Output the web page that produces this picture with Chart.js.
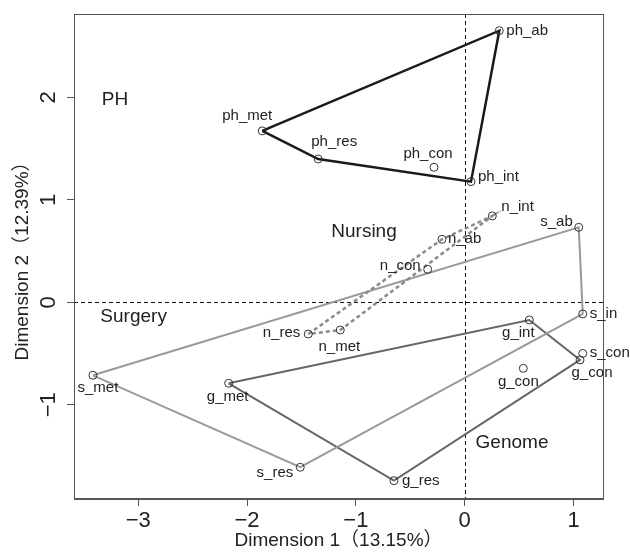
<!DOCTYPE html>
<html>
<head>
<meta charset="utf-8">
<script src="https://cdn.jsdelivr.net/npm/chart.js@4.4.1/dist/chart.umd.min.js"></script>
<style>
html, body { margin: 0; padding: 0; background: #fff; }
#wrap { width: 630px; height: 552px; }
</style>
</head>
<body>
<div id="wrap"><canvas id="myChart"></canvas></div>
<script>
// points of the correspondence map
var pointNames = ['ph_ab', 'ph_met', 'ph_res', 'ph_con', 'ph_int',
  'n_int', 'n_ab', 'n_con', 'n_res', 'n_met',
  's_ab', 's_in', 's_con', 's_met', 's_res',
  'g_int', 'g_con', 'g_con', 'g_met', 'g_res'];
var dim1 = [0.318, -1.860, -1.346, -0.282, 0.058,
  0.254, -0.209, -0.340, -1.437, -1.143,
  1.048, 1.085, 1.085, -3.416, -1.511,
  0.594, 1.060, 0.539, -2.169, -0.650];
var dim2 = [2.652, 1.673, 1.399, 1.318, 1.178,
  0.843, 0.615, 0.322, -0.310, -0.271,
  0.732, -0.114, -0.500, -0.713, -1.611,
  -0.173, -0.563, -0.645, -0.791, -1.742];

// polygon outlines (indices into the arrays above)
var phLoop = [1, 0, 4, 2];
var nLoop = [8, 6, 5, 9];
var sLoop = [13, 10, 11, 14];
var gLoop = [18, 15, 16, 19];

var groupNames = ['PH', 'Nursing', 'Surgery', 'Genome'];
var groupDim1 = [-3.214, -0.925, -3.042, 0.435];
var groupDim2 = [1.976, 0.686, -0.144, -1.374];

var xTicks = [-3, -2, -1, 0, 1];
var yTicks = [-1, 0, 1, 2];

// label placement: [align, dx, dy] in pixels
var labelPlace = [
  ['left', 7, 0], ['center', -15, -15], ['center', 16, -17], ['center', -6, -13], ['left', 7, -5],
  ['left', 9, -9], ['left', 6, 0], ['right', -7, -3], ['right', -8, -1], ['center', -1, 17],
  ['right', -6, -5], ['left', 7, 0], ['left', 7, -1], ['center', 5, 13], ['right', -7, 6],
  ['center', -11, 13], ['center', 12, 13], ['center', -5, 14], ['center', -1, 14], ['left', 8, 0]
];

var FONT = "'Liberation Sans', 'Noto Sans CJK JP', sans-serif";

function loopData(idx) {
  var d = idx.map(function (i) { return { x: dim1[i], y: dim2[i] }; });
  d.push(d[0]);
  return d;
}

function fmt(v) {
  return v < 0 ? '\u2212' + Math.abs(v) : '' + v;
}

var frame = {
  id: 'frame',
  beforeDatasetsDraw: function (chart) {
    var ctx = chart.ctx, a = chart.chartArea;
    var x0 = chart.scales.x.getPixelForValue(0);
    var y0 = chart.scales.y.getPixelForValue(0);
    ctx.save();
    ctx.strokeStyle = '#111';
    ctx.lineWidth = 1;
    ctx.setLineDash([4, 3]);
    ctx.beginPath();
    ctx.moveTo(Math.round(x0) + 0.5, a.top);
    ctx.lineTo(Math.round(x0) + 0.5, a.bottom);
    ctx.moveTo(a.left, Math.round(y0) + 0.5);
    ctx.lineTo(a.right, Math.round(y0) + 0.5);
    ctx.stroke();
    ctx.restore();
  },
  afterDatasetsDraw: function (chart) {
    var ctx = chart.ctx, a = chart.chartArea;
    var xs = chart.scales.x, ys = chart.scales.y;
    ctx.save();
    ctx.strokeStyle = '#555';
    ctx.lineWidth = 1;
    ctx.strokeRect(a.left + 0.5, a.top + 0.5, a.right - a.left, a.bottom - a.top - 1);

    ctx.fillStyle = '#222';
    ctx.textBaseline = 'middle';
    ctx.font = '15px ' + FONT;
    for (var i = 0; i < pointNames.length; i++) {
      var p = labelPlace[i];
      ctx.textAlign = p[0];
      ctx.fillText(pointNames[i], xs.getPixelForValue(dim1[i]) + p[1], ys.getPixelForValue(dim2[i]) + p[2]);
    }
    ctx.font = '19px ' + FONT;
    ctx.textAlign = 'center';
    for (var j = 0; j < groupNames.length; j++) {
      ctx.fillText(groupNames[j], xs.getPixelForValue(groupDim1[j]), ys.getPixelForValue(groupDim2[j]));
    }
    ctx.restore();
  }
};

var ctx = document.getElementById('myChart');
var myChart = new Chart(ctx, {
  type: 'scatter',
  data: {
    datasets: [
      {
        data: pointNames.map(function (n, i) { return { x: dim1[i], y: dim2[i] }; }),
        pointRadius: 4,
        pointBorderWidth: 1,
        pointBorderColor: '#333',
        pointBackgroundColor: 'rgba(0,0,0,0)',
        showLine: false,
        order: 0
      },
      { data: loopData(phLoop), showLine: true, pointRadius: 0, borderColor: '#1a1a1a', borderWidth: 2.5, order: 1 },
      { data: loopData(nLoop), showLine: true, pointRadius: 0, borderColor: '#8a8a8a', borderWidth: 2.5, borderDash: [4, 3], order: 2 },
      { data: loopData(sLoop), showLine: true, pointRadius: 0, borderColor: '#9a9a9a', borderWidth: 2, order: 3 },
      { data: loopData(gLoop), showLine: true, pointRadius: 0, borderColor: '#666', borderWidth: 2, order: 4 }
    ]
  },
  options: {
    responsive: true,
    maintainAspectRatio: false,
    animation: false,
    layout: { padding: { top: 14, right: 27, left: 0, bottom: 0 } },
    plugins: { legend: { display: false }, tooltip: { enabled: false } },
    scales: {
      x: {
        type: 'linear',
        min: -3.59,
        max: 1.271,
        afterBuildTicks: function (s) { s.ticks = xTicks.map(function (v) { return { value: v }; }); },
        afterFit: function (s) { s.height = 53; s.paddingLeft = 0; s.paddingRight = 0; },
        grid: { drawOnChartArea: false, drawTicks: true, tickLength: 7, color: '#555' },
        border: { display: true, color: '#555' },
        ticks: {
          autoSkip: false, maxRotation: 0, minRotation: 0, padding: 2,
          color: '#222', font: { family: FONT, size: 22 },
          callback: function (v) { return fmt(v); }
        },
        title: {
          display: true, text: 'Dimension 1（13.15%）', color: '#222',
          font: { family: FONT, size: 19 }, padding: { top: 0, bottom: 0 }
        }
      },
      y: {
        type: 'linear',
        min: -1.921,
        max: 2.815,
        afterBuildTicks: function (s) { s.ticks = yTicks.map(function (v) { return { value: v }; }); },
        afterFit: function (s) { s.width = 74; s.paddingTop = 0; s.paddingBottom = 0; },
        grid: { drawOnChartArea: false, drawTicks: true, tickLength: 7, color: '#555' },
        border: { display: true, color: '#555' },
        ticks: {
          autoSkip: false, minRotation: 90, maxRotation: 90, padding: 6, crossAlign: 'center',
          color: '#222', font: { family: FONT, size: 22 },
          callback: function (v) { return fmt(v); }
        },
        title: {
          display: true, text: 'Dimension 2（12.39%）', color: '#222',
          font: { family: FONT, size: 19 }, padding: { top: 11, bottom: 0 }
        }
      }
    }
  },
  plugins: [frame]
});
</script>
</body>
</html>
